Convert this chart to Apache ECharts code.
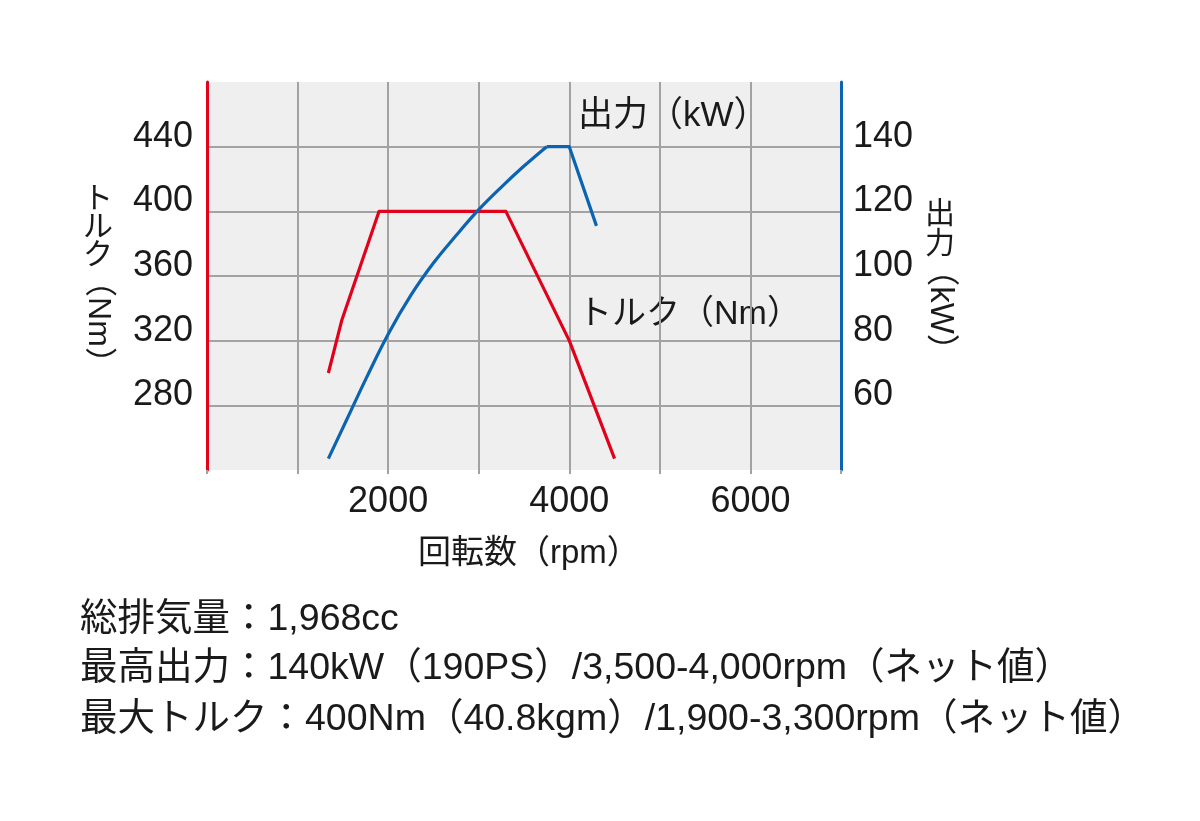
<!DOCTYPE html>
<html>
<head>
<meta charset="utf-8">
<script src="https://cdn.jsdelivr.net/npm/echarts@6/dist/echarts.min.js"></script>
<style>
html,body{margin:0;padding:0;background:#fff;}
#c{width:1200px;height:821px;}
</style>
</head>
<body>
<div id="c"></div>
<script>
// ---- data ----
const rpmTorque = [1340, 1490, 1900, 3300, 4000, 4500];
const torqueNm  = [300, 333, 400, 400, 320, 247];

const rpmPower = [1340, 1550, 1760, 2000, 2250, 2500, 2750, 3000, 3250, 3500, 3750, 4000, 4300];
const powerKW  = [43.5, 56, 68.5, 82, 94, 104, 112.5, 120.5, 127.5, 134, 140, 140, 115.5];
const powerPeakStartIndex = 10; // curve is smooth up to 3750 rpm, straight afterwards

const xTickLabels = [2000, 4000, 6000];
const torqueTickLabels = [280, 320, 360, 400, 440];
const powerTickLabels = [60, 80, 100, 120, 140];

const xTitle = '回転数（rpm）';
const torqueTitleUpright = 'ト\nル\nク';
const torqueTitleRotated = '（Nm）';
const powerTitleUpright = '出\n力';
const powerTitleRotated = '（kW）';
const powerLabel = '出力（kW）';
const torqueLabel = 'トルク（Nm）';
const notes = [
  '総排気量：1,968cc',
  '最高出力：140kW（190PS）/3,500-4,000rpm（ネット値）',
  '最大トルク：400Nm（40.8kgm）/1,900-3,300rpm（ネット値）'
];

// ---- styles ----
const RED = '#e3001b';
const BLUE = '#0a64b0';
const GRID = '#a2a2a2';
const TXT = '#1a1a1a';
const FONT = '"Liberation Sans", "Noto Sans CJK JP", sans-serif';

const torqueData = rpmTorque.map((x, i) => [x, torqueNm[i]]);
const powerData = rpmPower.map((x, i) => [x, powerKW[i]]);

function txt(text, x, y, size, opts) {
  opts = opts || {};
  const el = {
    type: 'text', x: x, y: y, silent: true,
    style: {
      text: text, fill: TXT,
      font: size + 'px ' + FONT,
      align: opts.align || 'left', verticalAlign: opts.va || 'middle',
      textAlign: opts.align || 'left', textVerticalAlign: opts.va || 'middle'
    }
  };
  if (opts.lh) el.style.lineHeight = opts.lh;
  if (opts.rotation !== undefined) el.rotation = opts.rotation;
  return el;
}

const chart = echarts.init(document.getElementById('c'), null, { renderer: 'canvas' });
chart.setOption({
  animation: false,
  backgroundColor: '#ffffff',
  grid: {
    left: 207, right: 359, top: 82, bottom: 351,
    show: true, backgroundColor: '#efefef', borderWidth: 0
  },
  xAxis: {
    type: 'value', min: 0, max: 7000, interval: 1000,
    axisLine: { show: false },
    axisTick: { show: true, length: 4, lineStyle: { color: GRID, width: 2 } },
    splitLine: { show: true, showMinLine: false, showMaxLine: false, lineStyle: { color: GRID, width: 2 } },
    axisLabel: {
      margin: 14, color: TXT, fontSize: 36, fontFamily: FONT,
      formatter: v => xTickLabels.indexOf(v) >= 0 ? String(v) : ''
    }
  },
  yAxis: [{
    type: 'value', position: 'left', min: 240, max: 480, interval: 40,
    axisLine: { show: true, lineStyle: { color: RED, width: 3 } },
    axisTick: { show: false },
    splitLine: { show: true, showMinLine: false, showMaxLine: false, lineStyle: { color: GRID, width: 2 } },
    axisLabel: {
      margin: 14, color: TXT, fontSize: 36, fontFamily: FONT,
      verticalAlign: 'bottom', lineHeight: 20,
      formatter: v => torqueTickLabels.indexOf(v) >= 0 ? String(v) : ''
    }
  }, {
    type: 'value', position: 'right', min: 40, max: 160, interval: 20,
    axisLine: { show: true, lineStyle: { color: BLUE, width: 3 } },
    axisTick: { show: false },
    splitLine: { show: false },
    axisLabel: {
      margin: 12, color: TXT, fontSize: 36, fontFamily: FONT,
      verticalAlign: 'bottom', lineHeight: 20,
      formatter: v => powerTickLabels.indexOf(v) >= 0 ? String(v) : ''
    }
  }],
  series: [{
    name: 'torque', type: 'line', yAxisIndex: 0, data: torqueData,
    showSymbol: false, symbol: 'none',
    lineStyle: { color: RED, width: 3.2, join: 'round' }, z: 3
  }, {
    name: 'power', type: 'line', yAxisIndex: 1,
    data: powerData.slice(0, powerPeakStartIndex + 1),
    showSymbol: false, symbol: 'none', smooth: 0.4,
    lineStyle: { color: BLUE, width: 3.2, join: 'round' }, z: 4
  }, {
    name: 'power-peak', type: 'line', yAxisIndex: 1,
    data: powerData.slice(powerPeakStartIndex),
    showSymbol: false, symbol: 'none',
    lineStyle: { color: BLUE, width: 3.2, join: 'round' }, z: 4
  }],
  graphic: [
    txt(powerLabel, 578, 116, 35),
    txt(torqueLabel, 578, 315, 34),
    txt(xTitle, 418, 554, 33),
    txt(torqueTitleUpright, 98, 228, 30, { align: 'center', lh: 28 }),
    txt(torqueTitleRotated, 98, 322, 32, { align: 'center', rotation: -Math.PI / 2 }),
    txt(powerTitleUpright, 940, 230, 30, { align: 'center', lh: 30 }),
    txt(powerTitleRotated, 940, 310, 33, { align: 'center', rotation: -Math.PI / 2 }),
    txt(notes[0], 80, 620, 37.5),
    txt(notes[1], 80, 669, 37.5),
    txt(notes[2], 80, 720, 37.5)
  ]
});
</script>
</body>
</html>
